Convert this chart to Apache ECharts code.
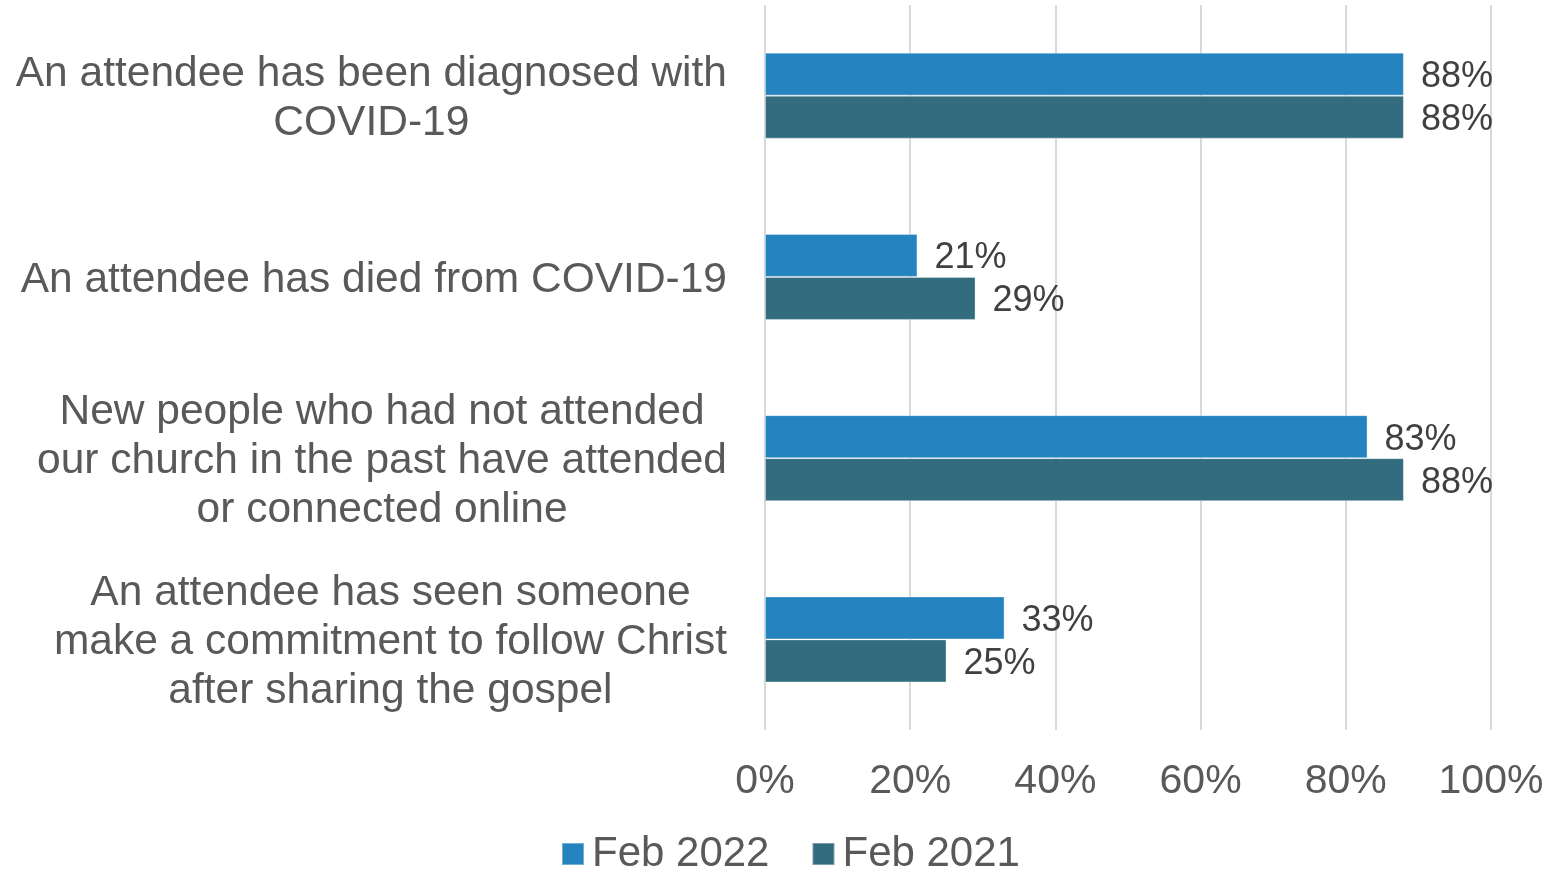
<!DOCTYPE html>
<html>
<head>
<meta charset="utf-8">
<style>
  html, body { margin: 0; padding: 0; background: #fff; }
  #chart { width: 1559px; height: 869px; }
</style>
<script src="https://cdn.jsdelivr.net/npm/echarts@6/dist/echarts.min.js"></script>
</head>
<body>
<div id="chart"></div>
<script>
const categories = [
  'An attendee has been diagnosed with\nCOVID-19',
  'An attendee has died from COVID-19',
  'New people who had not attended\nour church in the past have attended\nor connected online',
  'An attendee has seen someone\nmake a commitment to follow Christ\nafter sharing the gospel'
]
const feb2022 = [88, 21, 83, 33]
const feb2021 = [88, 29, 88, 25]
const seriesNames = ['Feb 2022', 'Feb 2021']
const xTicks = [0, 20, 40, 60, 80, 100]

const FONT = '"Liberation Sans", Arial, sans-serif'
const TEXT_GREY = '#595959'

const chart = echarts.init(document.getElementById('chart'), null, { renderer: 'canvas' })

const barLabel = {
  show: true,
  position: 'right',
  distance: 17,
  offset: [0, 3],
  formatter: '{c}%',
  fontFamily: FONT,
  fontSize: 36,
  color: '#404040'
}

chart.setOption({
  animation: false,
  color: ['#2584c0', '#326c7e'],
  textStyle: { fontFamily: FONT },
  grid: { left: 765, right: 68, top: 5, bottom: 139, containLabel: false },
  legend: {
    left: 556,
    top: 828,
    itemWidth: 22,
    itemHeight: 22,
    itemGap: 42,
    icon: 'rect',
    textStyle: { fontFamily: FONT, fontSize: 42, color: TEXT_GREY, padding: [0, 0, 0, 3] },
    data: seriesNames
  },
  xAxis: {
    type: 'value',
    min: xTicks[0],
    max: xTicks[xTicks.length - 1],
    interval: 20,
    axisLine: { show: false },
    axisTick: { show: false },
    splitLine: { lineStyle: { color: '#d9d9d9', width: 2 } },
    axisLabel: {
      margin: 31,
      fontFamily: FONT,
      fontSize: 41,
      color: TEXT_GREY,
      formatter: '{value}%'
    }
  },
  yAxis: {
    type: 'category',
    inverse: true,
    data: categories,
    axisLine: { show: false },
    axisTick: { show: false },
    axisLabel: {
      margin: 38,
      padding: [6, 0, 0, 0],
      fontFamily: FONT,
      fontSize: 42.5,
      lineHeight: 49,
      color: TEXT_GREY,
      formatter: (v) => v.split('\n').map((l) => '{c|' + l + '}').join('\n'),
      rich: {
        c: { align: 'center', fontFamily: FONT, fontSize: 42.5, lineHeight: 49, color: TEXT_GREY }
      }
    }
  },
  series: [
    {
      name: seriesNames[0],
      type: 'bar',
      data: feb2022,
      barWidth: 43,
      barGap: '0%',
      itemStyle: { borderColor: 'rgba(255,255,255,0.35)', borderWidth: 1 },
      label: barLabel
    },
    {
      name: seriesNames[1],
      type: 'bar',
      data: feb2021,
      barWidth: 43,
      barGap: '0%',
      itemStyle: { borderColor: 'rgba(255,255,255,0.35)', borderWidth: 1 },
      label: barLabel
    }
  ]
})
</script>
</body>
</html>
